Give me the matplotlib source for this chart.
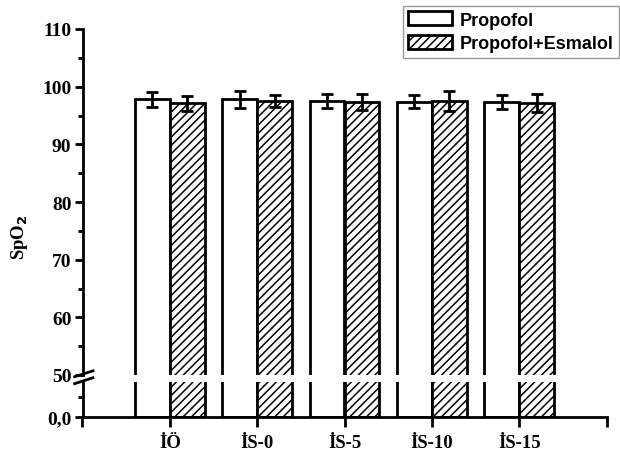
import numpy as np
import matplotlib
matplotlib.use('Agg')
import matplotlib.pyplot as plt

# data
categories = ['İÖ', 'İS-0', 'İS-5', 'İS-10', 'İS-15']
propofol = [97.8, 97.8, 97.5, 97.4, 97.4]
propofol_sd = [1.3, 1.45, 1.2, 1.15, 1.2]
esmalol = [97.1, 97.5, 97.4, 97.5, 97.2]
esmalol_sd = [1.35, 1.1, 1.4, 1.8, 1.6]
series_labels = ['Propofol', 'Propofol+Esmalol']
upper_ticks = [50, 60, 70, 80, 90, 100, 110]

serif = 'Liberation Serif'
plt.rcParams['hatch.linewidth'] = 1.1
W, H = 620, 452
fig = plt.figure(figsize=(W / 100, H / 100), dpi=100)

left = 82.5 / W
width = (606.5 - 82.5) / W
ax_top = fig.add_axes([left, 1 - 376 / H, width, (376 - 30) / H])
ax_bot = fig.add_axes([left, 1 - 418 / H, width, (418 - 383) / H])

x = np.arange(len(categories))
bw = 0.4
for ax in (ax_top, ax_bot):
    ax.bar(x - bw / 2, propofol, bw, color='white', edgecolor='black',
           linewidth=2, label=series_labels[0])
    ax.bar(x + bw / 2, esmalol, bw, color='white', edgecolor='black',
           linewidth=2, hatch='////', label=series_labels[1])
    ax.errorbar(x - bw / 2, propofol, yerr=propofol_sd, fmt='none',
                ecolor='black', elinewidth=2, capsize=4, capthick=2)
    ax.errorbar(x + bw / 2, esmalol, yerr=esmalol_sd, fmt='none',
                ecolor='black', elinewidth=2, capsize=4, capthick=2)
    ax.set_xlim(-1, 5)
    for s in ('top', 'right'):
        ax.spines[s].set_visible(False)
    ax.spines['left'].set_linewidth(2)
    ax.spines['bottom'].set_linewidth(2)
    ax.tick_params(axis='y', which='major', direction='out', length=6,
                   width=2, labelsize=14, pad=2)
    ax.tick_params(axis='y', which='minor', direction='out', length=3.5,
                   width=2)

# upper segment
ax_top.set_ylim(50, 110)
ax_top.spines['bottom'].set_visible(False)
ax_top.set_yticks(upper_ticks)
ax_top.set_yticks(np.arange(55, 110, 10), minor=True)
ax_top.set_xticks([])
for lab in ax_top.get_yticklabels():
    lab.set_fontfamily(serif)
    lab.set_fontweight('bold')

# lower segment
ax_bot.set_ylim(0, 44)
ax_bot.set_yticks([0])
ax_bot.set_yticklabels(['0,0'])
ax_bot.set_yticks([25], minor=True)
ax_bot.set_xticks(np.arange(-1, 6))
ax_bot.set_xticklabels([''] + categories + [''])
ax_bot.tick_params(axis='x', direction='out', length=7, width=2,
                   labelsize=13.5, pad=5)
for lab in ax_bot.get_yticklabels() + ax_bot.get_xticklabels():
    lab.set_fontfamily(serif)
    lab.set_fontweight('bold')

# break marks on the y axis
for yy in (0.0, -0.02):
    ax_top.plot([-0.015, 0.02], [yy - 0.005, yy + 0.012],
                transform=ax_top.transAxes, color='black', lw=2,
                clip_on=False)

fig.text(19 / W, 1 - 237 / H, 'SpO$_\\mathbf{2}$', rotation=90, ha='center',
         va='center', fontsize=13.5, fontweight='bold', family=serif)

handles, labels = ax_top.get_legend_handles_labels()
leg = fig.legend(handles, labels, loc='upper right',
                 bbox_to_anchor=(619 / W, 1 - 7 / H),
                 prop={'family': 'Liberation Sans', 'weight': 'bold',
                       'size': 13},
                 fancybox=False, framealpha=1, edgecolor='#999999',
                 handlelength=2.45, handleheight=0.8, handletextpad=0.4,
                 borderpad=0.3, labelspacing=0.35, borderaxespad=0)
leg.get_frame().set_linewidth(1)

fig.savefig('out.png', dpi=100)
